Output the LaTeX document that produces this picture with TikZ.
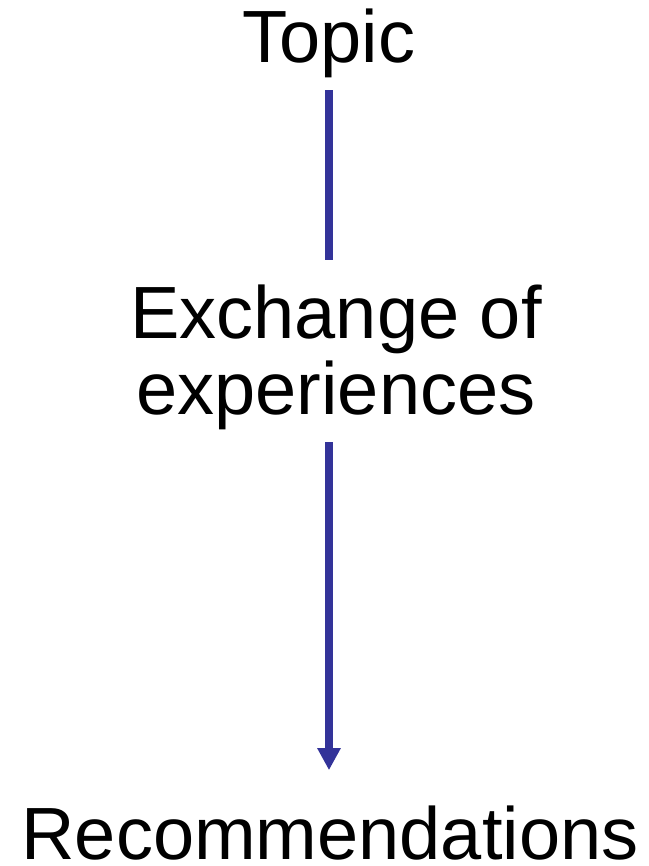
\documentclass[tikz,border=0pt]{standalone}
\usepackage{fontspec}
\setmainfont{Liberation Sans}
\usetikzlibrary{arrows.meta}
\definecolor{diagramFlow}{HTML}{333399}
\definecolor{diagramText}{HTML}{000000}

\begin{document}
\begin{tikzpicture}[
    x=1pt,y=-1pt,
    every node/.style={font=\fontsize{74}{76}\selectfont,align=center,inner sep=0pt,text=diagramText},
    flow/.style={draw=diagramFlow,line width=8pt},
    flowend/.style={flow,-{Triangle[length=22pt,width=22pt]}}
]
\useasboundingbox (0,0) rectangle (648,866);
\node[anchor=base] (topic) at (329,63) {Topic};
\node (exchange) at (336,357) {Exchange of\\experiences};
\node[anchor=base] (recs) at (330,859) {Recommendations};
\draw[flow,shorten <=11.5pt,shorten >=24pt] (topic) -- (topic |- exchange.north);
\draw[flowend,shorten <=12.5pt,shorten >=35pt] (topic |- exchange.south) -- (topic |- recs.north);
\end{tikzpicture}
\end{document}
